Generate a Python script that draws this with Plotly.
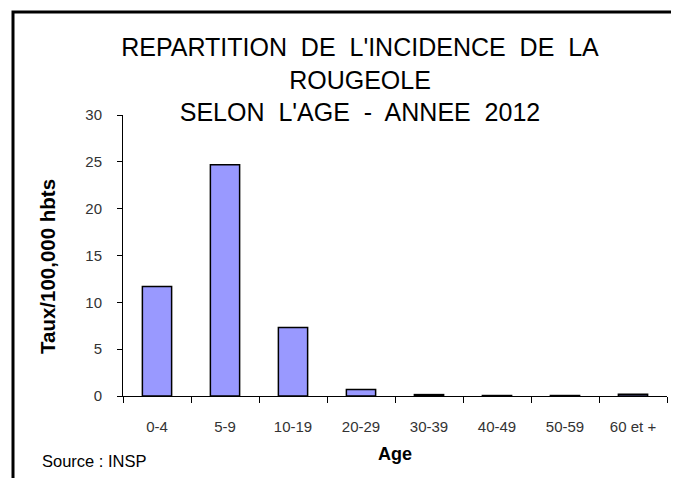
import plotly.graph_objects as go

categories = ["0-4", "5-9", "10-19", "20-29", "30-39", "40-49", "50-59", "60 et +"]
values = [11.7, 24.7, 7.3, 0.7, 0.15, 0.05, 0.05, 0.2]
y_ticks = [0, 5, 10, 15, 20, 25, 30]

# the page puts the figure 8px in from the window's top-left corner
OFF = 8
WIN_W, WIN_H = 679, 478
W, H = WIN_W - OFF, WIN_H - OFF
# plot area in window pixels: x 123..667, y 115..396
L, R, T, B = 123 - OFF, WIN_W - 667, 115 - OFF, WIN_H - 396
pw, ph = W - L - R, H - T - B

def px_x(x):  # window x -> paper
    return (x - OFF - L) / pw

def px_y(y):  # window y -> paper
    return (H - B - (y - OFF)) / ph

NB = "\u00a0"
title = ("REPARTITION" + NB + " DE" + NB + " L'INCIDENCE" + NB + " DE" + NB + " LA<br>ROUGEOLE<br>"
         "SELON" + NB + " L'AGE" + NB + " -" + NB + " ANNEE" + NB + " 2012")

fig = go.Figure(go.Bar(
    x=categories, y=values,
    marker=dict(color="#9999FF", line=dict(color="black", width=1.5)),
))

fig.update_layout(
    width=W, height=H,
    margin=dict(l=L, r=R, t=T, b=B),
    paper_bgcolor="white", plot_bgcolor="white",
    bargap=0.57,
    showlegend=False,
    font=dict(family="Liberation Sans, Arial, sans-serif", color="#333333"),
    title=dict(text=title, x=(360 - OFF) / W, xanchor="center", y=1 - 48 / H, yanchor="middle",
               xref="container", yref="container",
               font=dict(family="Liberation Sans, Arial, sans-serif", size=25, color="black")),
    xaxis=dict(
        type="category", showline=True, linecolor="black", linewidth=1,
        ticks="outside", tickson="boundaries", ticklen=6, tickcolor="black",
        tickfont=dict(size=15, color="#333333"), ticklabelstandoff=17,
        showgrid=False,
        title=dict(text="<b>Age</b>", font=dict(size=18, color="black"), standoff=13),
    ),
    yaxis=dict(
        range=[0, 30], tickvals=y_ticks, showline=True, linecolor="black", linewidth=1,
        ticks="outside", ticklen=5, tickcolor="black",
        tickfont=dict(size=15, color="#333333"), ticklabelstandoff=12,
        showgrid=False, zeroline=False,
    ),
    shapes=[dict(
        type="path", xref="paper", yref="paper",
        path=f"M {px_x(13)} {px_y(WIN_H + 5)} L {px_x(13)} {px_y(12)} L {px_x(WIN_W + 5)} {px_y(12)}",
        line=dict(color="black", width=3),
    )],
    annotations=[
        dict(
            text="Source : INSP", xref="paper", yref="paper",
            x=px_x(40), y=px_y(461), xanchor="left", yanchor="middle", showarrow=False,
            font=dict(family="Liberation Sans Narrow, Liberation Sans, Arial, sans-serif", size=16.5, color="black"),
        ),
        dict(
            text="<b>Taux/100,000 hbts</b>", xref="paper", yref="paper",
            x=px_x(47), y=px_y(267), xanchor="center", yanchor="middle", showarrow=False,
            textangle=-90,
            font=dict(family="Liberation Sans, Arial, sans-serif", size=20.5, color="black"),
        ),
    ],
)

fig.write_html("out.html")
